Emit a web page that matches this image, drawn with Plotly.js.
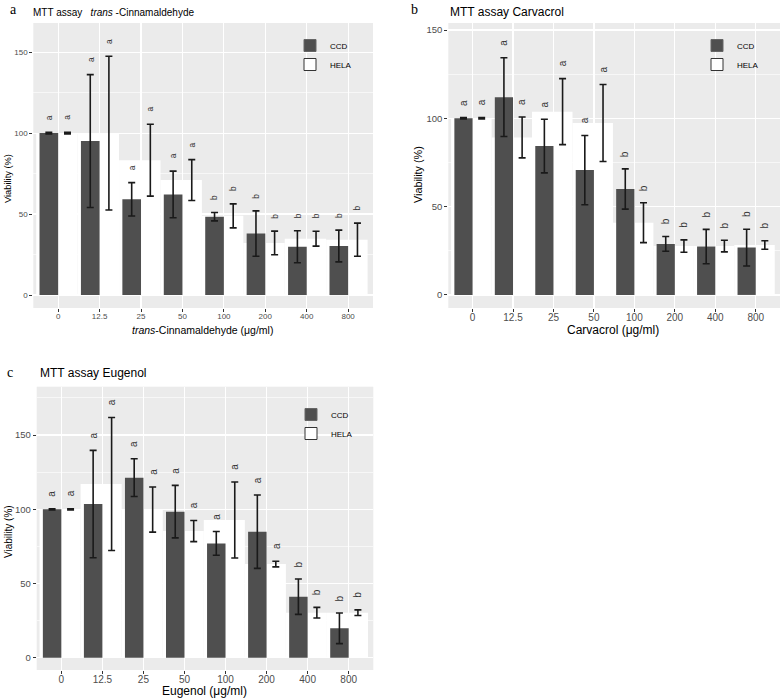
<!DOCTYPE html>
<html>
<head>
<meta charset="utf-8">
<script src="https://cdn.plot.ly/plotly-3.0.1.min.js"></script>
<style>html,body{margin:0;padding:0;background:#fff;}#chart{width:782px;height:699px;}</style>
</head>
<body>
<div id="chart"></div>
<script>
// ---------- data ----------
const concentrations = ['0', '12.5', '25', '50', '100', '200', '400', '800'];

// a: trans-Cinnamaldehyde
const cinCCD      = [100, 95.1, 59.1, 62.1, 48.4, 38.0, 29.8, 30.3];
const cinCCDsd    = [0.5, 41.0, 10.3, 14.4, 2.6, 14.0, 9.9, 9.8];
const cinHELA     = [100, 100, 83.3, 71.0, 48.9, 32.2, 34.8, 34.2];
const cinHELAsd   = [0.5, 47.5, 22.2, 12.6, 7.4, 7.3, 4.6, 10.2];
const cinCCDlet   = ['a', 'a', 'a', 'a', 'b', 'b', 'b', 'b'];
const cinHELAlet  = ['a', 'a', 'a', 'a', 'b', 'b', 'b', 'b'];

// b: Carvacrol
const carCCD      = [100, 112.0, 84.3, 70.7, 60.0, 28.9, 27.4, 26.8];
const carCCDsd    = [0.4, 22.3, 15.2, 19.6, 11.4, 4.2, 9.7, 10.4];
const carHELA     = [100, 89.2, 103.8, 97.4, 40.9, 27.7, 27.7, 28.3];
const carHELAsd   = [0.4, 11.6, 18.7, 21.8, 11.3, 3.5, 3.3, 2.4];
const carCCDlet   = ['a', 'a', 'a', 'a', 'b', 'b', 'b', 'b'];
const carHELAlet  = ['a', 'a', 'a', 'a', 'b', 'b', 'b', 'b'];

// c: Eugenol
const eugCCD      = [100, 103.5, 121.3, 98.4, 77.0, 84.9, 41.1, 19.8];
const eugCCDsd    = [0.4, 36.2, 12.7, 17.7, 8.0, 24.7, 11.9, 10.3];
const eugHELA     = [100, 117.0, 99.8, 85.3, 92.8, 63.1, 30.3, 30.3];
const eugHELAsd   = [0.4, 44.8, 15.2, 7.1, 25.6, 1.9, 3.6, 1.9];
const eugCCDlet   = ['a', 'a', 'a', 'a', 'a', 'a', 'b', 'b'];
const eugHELAlet  = ['a', 'a', 'a', 'a', 'a', 'a', 'b', 'b'];

const seriesNames = ['CCD', 'HELA'];

// ---------- styling ----------
const FONT = 'Liberation Sans, Arial, sans-serif';
const SERIF = 'Liberation Serif, Times New Roman, serif';
const CCD_COLOR = '#4f4f4f';
const ERR_COLOR = '#1a1a1a';
const idx = concentrations.map((_, i) => i);

const panels = [
  {xa: 'x', ya: 'y', leg: 'legend', ccd: cinCCD, ccdsd: cinCCDsd, hela: cinHELA, helasd: cinHELAsd,
   ccdlet: cinCCDlet, helalet: cinHELAlet, letSize: 8.5},
  {xa: 'x2', ya: 'y2', leg: 'legend2', ccd: carCCD, ccdsd: carCCDsd, hela: carHELA, helasd: carHELAsd,
   ccdlet: carCCDlet, helalet: carHELAlet, letSize: 10},
  {xa: 'x3', ya: 'y3', leg: 'legend3', ccd: eugCCD, ccdsd: eugCCDsd, hela: eugHELA, helasd: eugHELAsd,
   ccdlet: eugCCDlet, helalet: eugHELAlet, letSize: 10}
];

const traces = [];
const annotations = [];
panels.forEach(p => {
  // HELA (wide white bar, behind)
  traces.push({type: 'bar', x: idx.map(i => i - 0.03), y: p.hela, width: 1.0,
    marker: {color: '#ffffff', line: {width: 0}}, xaxis: p.xa, yaxis: p.ya,
    showlegend: false, hoverinfo: 'skip'});
  // CCD (narrow dark bar)
  traces.push({type: 'bar', x: idx.map(i => i - 0.225), y: p.ccd, width: 0.45,
    marker: {color: CCD_COLOR, line: {width: 0}}, xaxis: p.xa, yaxis: p.ya,
    showlegend: false, hoverinfo: 'skip'});
  // error bars
  traces.push({type: 'scatter', mode: 'markers', x: idx.map(i => i - 0.225), y: p.ccd,
    marker: {size: 1, opacity: 0}, xaxis: p.xa, yaxis: p.ya, showlegend: false,
    error_y: {type: 'data', array: p.ccdsd, visible: true, color: ERR_COLOR, thickness: 1.6, width: 3.5}});
  traces.push({type: 'scatter', mode: 'markers', x: idx.map(i => i + 0.225), y: p.hela,
    marker: {size: 1, opacity: 0}, xaxis: p.xa, yaxis: p.ya, showlegend: false,
    error_y: {type: 'data', array: p.helasd, visible: true, color: ERR_COLOR, thickness: 1.6, width: 3.5}});
  // legend entries
  traces.push({type: 'bar', name: seriesNames[0], x: [null], y: [null], xaxis: p.xa, yaxis: p.ya,
    marker: {color: CCD_COLOR, line: {color: '#666', width: 1}}, legend: p.leg, legendrank: 1});
  traces.push({type: 'bar', name: seriesNames[1], x: [null], y: [null], xaxis: p.xa, yaxis: p.ya,
    marker: {color: '#ffffff', line: {color: '#333', width: 1}}, legend: p.leg, legendrank: 2});
  // significance letters
  idx.forEach(i => {
    annotations.push({xref: p.xa, yref: p.ya, x: i - 0.225, y: p.ccd[i] + p.ccdsd[i], text: p.ccdlet[i],
      xanchor: 'center', yanchor: 'middle',
      showarrow: false, textangle: -90, yshift: 15, font: {family: FONT, size: p.letSize, color: '#333'}});
    annotations.push({xref: p.xa, yref: p.ya, x: i + 0.225, y: p.hela[i] + p.helasd[i], text: p.helalet[i],
      xanchor: 'center', yanchor: 'middle',
      showarrow: false, textangle: -90, yshift: 15, font: {family: FONT, size: p.letSize, color: '#333'}});
  });
});

// panel labels, titles, axis titles
function paperText(text, xpx, ypx, size, opts) {
  return Object.assign({xref: 'paper', yref: 'paper', x: xpx / 782, y: 1 - ypx / 699, text: text,
    xanchor: 'center', yanchor: 'middle',
    showarrow: false, font: {family: FONT, size: size, color: '#000'}}, opts || {});
}
annotations.push(paperText('a', 13, 10, 14, {font: {family: SERIF, size: 14, color: '#000'}}));
annotations.push(paperText('MTT assay   <i>trans</i> -Cinnamaldehyde', 31, 12, 10, {xanchor: 'left'}));
annotations.push(paperText('b', 414, 9, 14, {font: {family: SERIF, size: 14, color: '#000'}}));
annotations.push(paperText('MTT assay Carvacrol', 448, 12, 12, {xanchor: 'left'}));
annotations.push(paperText('c', 10, 372, 14, {font: {family: SERIF, size: 14, color: '#000'}}));
annotations.push(paperText('MTT assay Eugenol', 38, 373, 12, {xanchor: 'left'}));

annotations.push(paperText('<i>trans</i>-Cinnamaldehyde (μg/ml)', 202, 330, 10.5));
annotations.push(paperText('Carvacrol (μg/ml)', 613, 330, 12));
annotations.push(paperText('Eugenol (μg/ml)', 204, 691, 12));
annotations.push(paperText('Viability (%)', 8, 179, 9.3, {textangle: -90}));
annotations.push(paperText('Viability (%)', 418, 175, 10.8, {textangle: -90}));
annotations.push(paperText('Viability (%)', 8, 532, 10, {textangle: -90}));

function xAxis(domain, anchor, tsize) {
  return {domain: domain, anchor: anchor, range: [-0.6, 7.6], tickvals: idx, ticktext: concentrations,
    showgrid: true, gridcolor: '#ffffff', gridwidth: 1.2, zeroline: false, showline: false,
    ticks: 'outside', ticklen: 3, tickcolor: '#333', tickwidth: 1, ticklabelstandoff: -3,
    tickfont: {family: FONT, size: tsize, color: '#4d4d4d'}, fixedrange: true};
}
function yAxis(domain, anchor, range, tsize, minorVals) {
  return {domain: domain, anchor: anchor, range: range, tickvals: [0, 50, 100, 150],
    showgrid: true, gridcolor: '#ffffff', gridwidth: 1.2, zeroline: false, showline: false,
    ticks: 'outside', ticklen: 3, tickcolor: '#333', tickwidth: 1,
    tickfont: {family: FONT, size: tsize, color: '#4d4d4d'},
    minor: {tickvals: minorVals, showgrid: true, gridcolor: '#ffffff', gridwidth: 0.6, ticks: ''},
    fixedrange: true};
}

const legendBase = {bgcolor: 'rgba(0,0,0,0)', xanchor: 'left', yanchor: 'top',
  font: {family: FONT, size: 8, color: '#000'}, tracegroupgap: 0, itemclick: false, itemdoubleclick: false};

const layout = {
  width: 782, height: 699,
  margin: {l: 0, r: 0, t: 0, b: 0},
  paper_bgcolor: '#ffffff', plot_bgcolor: '#ebebeb',
  barmode: 'overlay',
  showlegend: true,
  font: {family: FONT},
  xaxis: xAxis([33.3 / 782, 373 / 782], 'y', 8),
  yaxis: yAxis([1 - 308 / 699, 1 - 23 / 699], 'x', [-8, 168], 8, [25, 75, 125]),
  xaxis2: xAxis([448.3 / 782, 780 / 782], 'y2', 10),
  yaxis2: yAxis([1 - 308 / 699, 1 - 23 / 699], 'x2', [-7.4, 154], 9.5, [25, 75, 125]),
  xaxis3: xAxis([36.7 / 782, 373.3 / 782], 'y3', 10),
  yaxis3: yAxis([1 - 670 / 699, 1 - 386.7 / 699], 'x3', [-8.3, 182.6], 9.5, [25, 75, 125, 175]),
  legend: Object.assign({}, legendBase, {x: 290 / 782, y: 1 - 31 / 699}),
  legend2: Object.assign({}, legendBase, {x: 697 / 782, y: 1 - 31 / 699}),
  legend3: Object.assign({}, legendBase, {x: 291 / 782, y: 1 - 400 / 699}),
  annotations: annotations
};

Plotly.newPlot('chart', traces, layout, {displayModeBar: false, staticPlot: true});
</script>
</body>
</html>
